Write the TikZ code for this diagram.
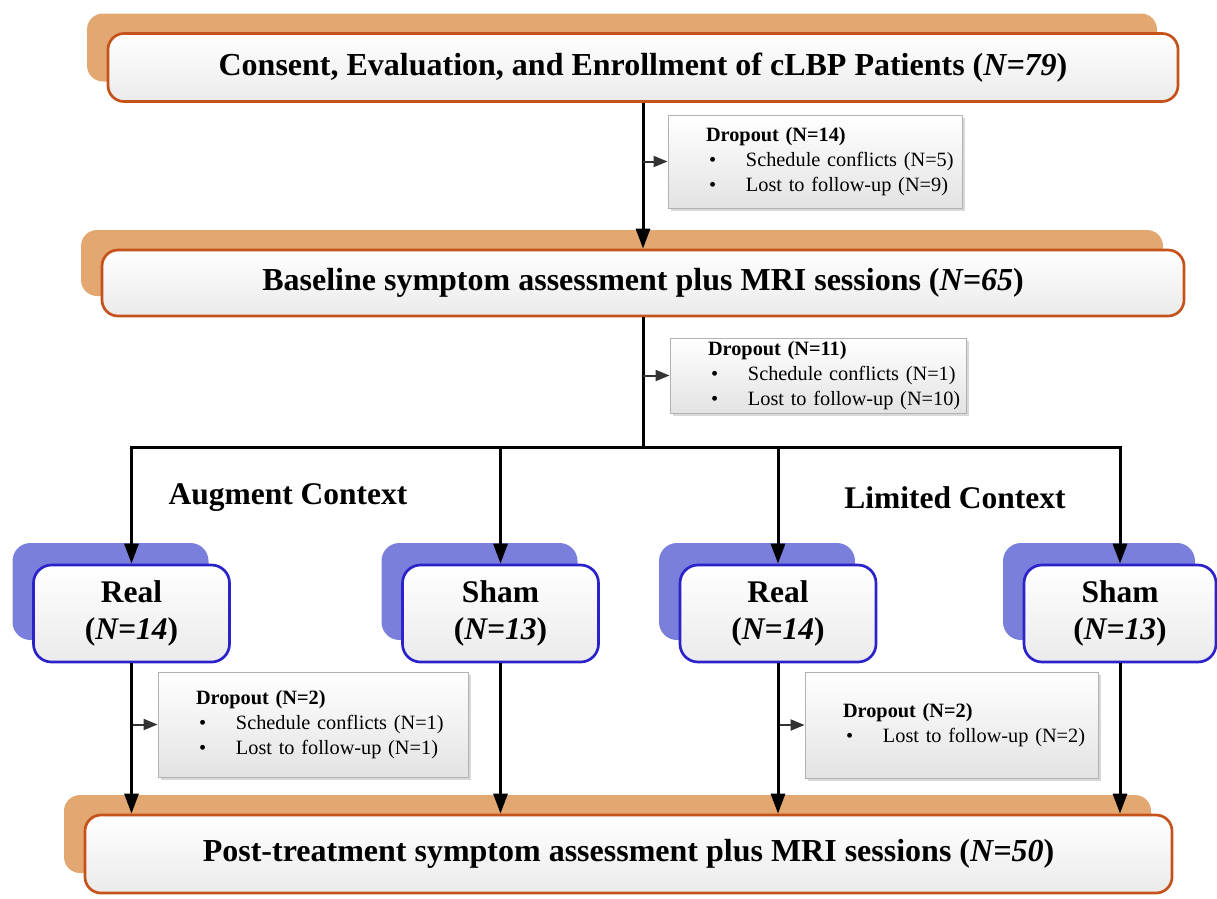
\documentclass[tikz,border=0pt]{standalone}
\usepackage{fontspec}
\setmainfont{Liberation Serif}
\usetikzlibrary{arrows.meta,shadows,positioning}
\definecolor{phaseshade}{HTML}{E3A772}
\definecolor{phaseline}{HTML}{C4521A}
\definecolor{armshade}{HTML}{7A7FDB}
\definecolor{armline}{HTML}{2B22C9}
\newcommand{\droptitle}[1]{\hspace*{32pt}\mbox{\textbf{#1}}}
\newcommand{\dropitem}[1]{\hspace*{35pt}\mbox{\makebox[37pt][l]{\textbullet}#1}}

\begin{document}
\begin{tikzpicture}[x=1pt, y=-1pt,
    phase/.style={draw=phaseline, line width=2.7pt, rounded corners=16pt, top color=white, bottom color=gray!16,
        general shadow={fill=phaseshade, shadow xshift=-21pt, shadow yshift=20pt},
        minimum height=68pt, inner sep=0pt, font=\fontsize{32}{36}\selectfont\bfseries},
    arm/.style={draw=armline, line width=2.7pt, rounded corners=18pt, top color=white, bottom color=gray!16,
        general shadow={fill=armshade, shadow xshift=-21pt, shadow yshift=22pt},
        minimum width=196pt, minimum height=97pt, inner sep=0pt, align=center, font=\fontsize{31.5}{37}\selectfont\bfseries},
    dropbox/.style={draw=gray!60, line width=0.9pt, top color=white, bottom color=gray!22,
        drop shadow={shadow xshift=3pt, shadow yshift=-3pt, fill=gray!60, opacity=0.5},
        inner xsep=6pt, inner ysep=0pt, align=left, font=\fontsize{20.3}{25}\selectfont},
    context/.style={font=\fontsize{31.5}{36}\selectfont\bfseries},
    trunk/.style={line width=3pt},
    flow/.style={line width=3pt, -{Triangle[length=20pt, width=14pt]}},
    side/.style={line width=2pt, draw=black!80, -{Triangle[length=14pt, width=11pt]}}]
    \useasboundingbox (0,0) rectangle (1217,898);

    % study phases
    \node[phase, minimum width=1070pt] (consent) at (643,67.5) {Consent, Evaluation, and Enrollment of cLBP Patients (\textit{N=79})};
    \node[phase, minimum width=1082pt, minimum height=66pt] (baseline) at (643,283) {Baseline symptom assessment plus MRI sessions (\textit{N=65})};
    \node[phase, minimum width=1087pt, minimum height=78pt] (post) at (628.5,854) {Post-treatment symptom assessment plus MRI sessions (\textit{N=50})};

    % dropouts
    \node[dropbox, text width=282pt, minimum height=93pt] (drop1) at (815,161.5) {\droptitle{Dropout (N=14)}\\ \dropitem{Schedule conflicts (N=5)}\\ \dropitem{Lost to follow-up (N=9)}};
    \node[dropbox, text width=284pt, minimum height=75pt] (drop2) at (818,375.5) {\droptitle{Dropout (N=11)}\\ \dropitem{Schedule conflicts (N=1)}\\ \dropitem{Lost to follow-up (N=10)}};
    \node[dropbox, text width=298pt, minimum height=105pt] (drop3) at (313,724.5) {\droptitle{Dropout (N=2)}\\ \dropitem{Schedule conflicts (N=1)}\\ \dropitem{Lost to follow-up (N=1)}};
    \node[dropbox, text width=281pt, minimum height=106pt] (drop4) at (951.5,725) {\droptitle{Dropout (N=2)}\\ \dropitem{Lost to follow-up (N=2)}};

    % arms
    \node[context] (augment) at (288,498) {Augment Context};
    \node[context] (limited) at (955,498) {Limited Context};
    \node[arm] (real1) at (131.5,613.5) {Real\\(\textit{N=14})};
    \node[arm] (sham1) at (500.5,613.5) {Sham\\(\textit{N=13})};
    \node[arm] (real2) at (778,613.5) {Real\\(\textit{N=14})};
    \node[arm, minimum width=192pt] (sham2) at (1120,613.5) {Sham\\(\textit{N=13})};

    \coordinate (split) at (643,447);

    \draw[flow] (consent.south) -- (consent.south |- baseline.north);
    \draw[side] (consent.south |- drop1.west) -- (drop1.west);
    \draw[trunk] (baseline.south) -- (split);
    \draw[side] (baseline.south |- drop2.west) -- (drop2.west);
    \draw[flow] (split) -| (real1.north);
    \draw[flow] (split) -| (sham1.north);
    \draw[flow] (split) -| (real2.north);
    \draw[flow] (split) -| (sham2.north);
    \draw[side] (real1.south |- drop3.west) -- (drop3.west);
    \draw[side] (real2.south |- drop4.west) -- (drop4.west);
    \draw[flow] (real1.south) -- (real1.south |- post.north);
    \draw[flow] (sham1.south) -- (sham1.south |- post.north);
    \draw[flow] (real2.south) -- (real2.south |- post.north);
    \draw[flow] (sham2.south) -- (sham2.south |- post.north);
\end{tikzpicture}
\end{document}
